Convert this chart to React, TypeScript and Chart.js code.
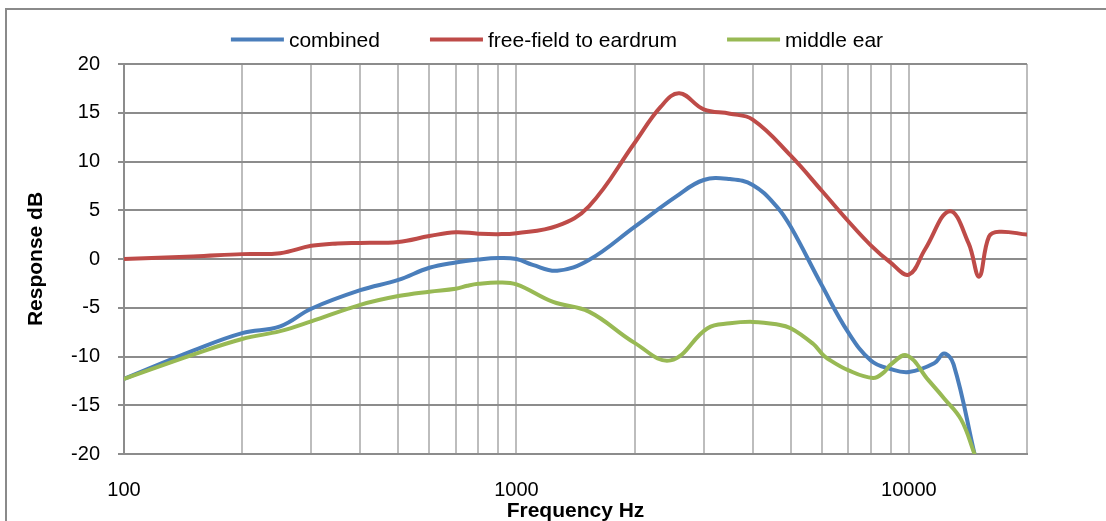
import React, { useEffect, useRef } from "react";
import { Chart, registerables } from "chart.js";

Chart.register(...registerables);

// Frequency responses (Hz → dB)
const combinedHz = [100, 150, 200, 250, 300, 400, 500, 600, 700, 800, 900, 1000, 1100, 1270, 1530, 2000, 2550, 3000, 3500, 4000, 4600, 5000, 6000, 7000, 8000, 9000, 10000, 11600, 12300, 13000, 14700];
const combinedDb = [-12.3, -9.4, -7.6, -6.9, -5.1, -3.2, -2.15, -0.9, -0.35, -0.05, 0.1, 0.0, -0.6, -1.2, -0.1, 3.3, 6.4, 8.1, 8.2, 7.6, 5.4, 3.3, -2.7, -7.5, -10.4, -11.3, -11.6, -10.7, -9.7, -10.8, -20];

const freeFieldHz = [100, 150, 200, 250, 300, 350, 400, 500, 600, 700, 800, 900, 1000, 1270, 1530, 2000, 2330, 2600, 3000, 3500, 4000, 5000, 6000, 7000, 8000, 9000, 10000, 11000, 12700, 14200, 15100, 16000, 17000, 20000];
const freeFieldDb = [0, 0.25, 0.5, 0.6, 1.35, 1.6, 1.65, 1.75, 2.35, 2.75, 2.6, 2.55, 2.65, 3.4, 5.4, 11.9, 15.6, 17.0, 15.35, 14.9, 14.3, 10.6, 7.0, 3.9, 1.4, -0.4, -1.6, 1.0, 4.9, 1.6, -1.8, 2.3, 2.8, 2.5];

const middleEarHz = [100, 150, 200, 250, 300, 400, 500, 600, 700, 750, 800, 900, 1000, 1240, 1530, 2000, 2470, 3070, 3500, 4000, 4600, 5000, 5700, 6000, 6200, 7000, 8100, 8650, 9000, 9900, 11200, 12300, 13600, 14700];
const middleEarDb = [-12.3, -9.8, -8.2, -7.4, -6.4, -4.7, -3.8, -3.35, -3.05, -2.75, -2.55, -2.4, -2.6, -4.4, -5.4, -8.6, -10.4, -7.1, -6.6, -6.45, -6.7, -7.1, -8.7, -9.7, -10.2, -11.4, -12.2, -11.6, -10.8, -9.9, -12.4, -14.3, -16.5, -20];

const seriesNames = ["combined", "free-field to eardrum", "middle ear"];
const seriesColors = ["#4a7ebb", "#be4b48", "#98b954"];

// Axis ticks
const xGridHz = [100, 200, 300, 400, 500, 600, 700, 800, 900, 1000, 2000, 3000, 4000, 5000, 6000, 7000, 8000, 9000, 10000, 20000];
const xLabelHz = [100, 1000, 10000];
const yTicks = [-20, -15, -10, -5, 0, 5, 10, 15, 20];

const FONT = "'Liberation Sans', Arial, sans-serif";

const toPoints = (hz: number[], db: number[]) => hz.map((f, i) => ({ x: f, y: db[i] }));

// Legend with short line samples, centred above the plot
const lineLegend = {
  id: "lineLegend",
  afterDraw(chart: any) {
    const ctx = chart.ctx as CanvasRenderingContext2D;
    const sample = 53;
    const gap = 5;
    const spacing = 50;
    const y = 40;
    ctx.save();
    ctx.font = `21px ${FONT}`;
    const items = chart.data.datasets.map((ds: any) => ({
      label: ds.label as string,
      color: ds.borderColor as string,
      w: sample + gap + ctx.measureText(ds.label).width,
    }));
    const total = items.reduce((s: number, it: any) => s + it.w, 0) + spacing * (items.length - 1);
    let x = 557 - total / 2;
    for (const it of items) {
      ctx.strokeStyle = it.color;
      ctx.lineWidth = 4;
      ctx.lineCap = "butt";
      ctx.beginPath();
      ctx.moveTo(x, y - 0.5);
      ctx.lineTo(x + sample, y - 0.5);
      ctx.stroke();
      ctx.fillStyle = "#000";
      ctx.textAlign = "left";
      ctx.textBaseline = "middle";
      ctx.fillText(it.label, x + sample + gap, y + 1);
      x += it.w + spacing;
    }
    ctx.restore();
  },
};

export default function App() {
  const canvasRef = useRef<HTMLCanvasElement | null>(null);

  useEffect(() => {
    const canvas = canvasRef.current;
    if (!canvas) return;
    Chart.defaults.font.family = FONT;

    const chart = new Chart(canvas, {
      type: "line",
      data: {
        datasets: [
          { label: seriesNames[0], data: toPoints(combinedHz, combinedDb), borderColor: seriesColors[0], backgroundColor: seriesColors[0], order: 2 },
          { label: seriesNames[1], data: toPoints(freeFieldHz, freeFieldDb), borderColor: seriesColors[1], backgroundColor: seriesColors[1], order: 1 },
          { label: seriesNames[2], data: toPoints(middleEarHz, middleEarDb), borderColor: seriesColors[2], backgroundColor: seriesColors[2], order: 0 },
        ],
      },
      options: {
        animation: false,
        responsive: false,
        devicePixelRatio: 1,
        layout: { padding: { top: 64, right: 79, left: 0, bottom: 0 } },
        elements: {
          point: { radius: 0 },
          line: { borderWidth: 4, tension: 0.4, borderCapStyle: "round", borderJoinStyle: "round" },
        },
        plugins: {
          legend: { display: false },
          tooltip: { enabled: false },
        },
        scales: {
          x: {
            type: "logarithmic",
            min: 100,
            max: 20000,
            afterBuildTicks: (s: any) => {
              s.ticks = xGridHz.map((v) => ({ value: v }));
            },
            afterFit: (s: any) => {
              s.height = 76;
            },
            ticks: {
              autoSkip: false,
              maxRotation: 0,
              minRotation: 0,
              padding: 24,
              color: "#000",
              font: { size: 20, family: FONT },
              callback: (v: any) => (xLabelHz.includes(Number(v)) ? String(v) : ""),
            },
            grid: { color: "#bdbdbd", lineWidth: 2, drawTicks: false, tickLength: 0 },
            border: { color: "#8c8c8c", width: 2 },
            title: {
              display: true,
              text: "Frequency Hz",
              color: "#000",
              font: { size: 21, weight: "bold", family: FONT },
              padding: { top: 0, bottom: 6 },
            },
          },
          y: {
            min: -20,
            max: 20,
            afterBuildTicks: (s: any) => {
              s.ticks = yTicks.map((v) => ({ value: v }));
            },
            afterFit: (s: any) => {
              s.width = 124;
            },
            ticks: {
              padding: 18,
              color: "#000",
              font: { size: 20, family: FONT },
              callback: (v: any) => String(v),
            },
            grid: { color: "#8c8c8c", lineWidth: 2, tickLength: 6 },
            border: { color: "#8c8c8c", width: 2 },
            title: {
              display: true,
              text: "Response dB",
              color: "#000",
              font: { size: 21, weight: "bold", family: FONT },
              padding: { top: 24, bottom: 0 },
            },
          },
        },
      } as any,
      plugins: [lineLegend],
    });

    return () => chart.destroy();
  }, []);

  return (
    <div
      style={{
        position: "fixed",
        left: 0,
        top: 0,
        width: 1106,
        height: 521,
        overflow: "hidden",
        background: "#fff",
      }}
    >
      <canvas ref={canvasRef} width={1106} height={530} style={{ display: "block" }} />
      <div
        style={{
          position: "absolute",
          left: 5,
          top: 8,
          width: 1200,
          height: 600,
          border: "2px solid #8a8a8a",
          boxSizing: "border-box",
          pointerEvents: "none",
        }}
      />
    </div>
  );
}
